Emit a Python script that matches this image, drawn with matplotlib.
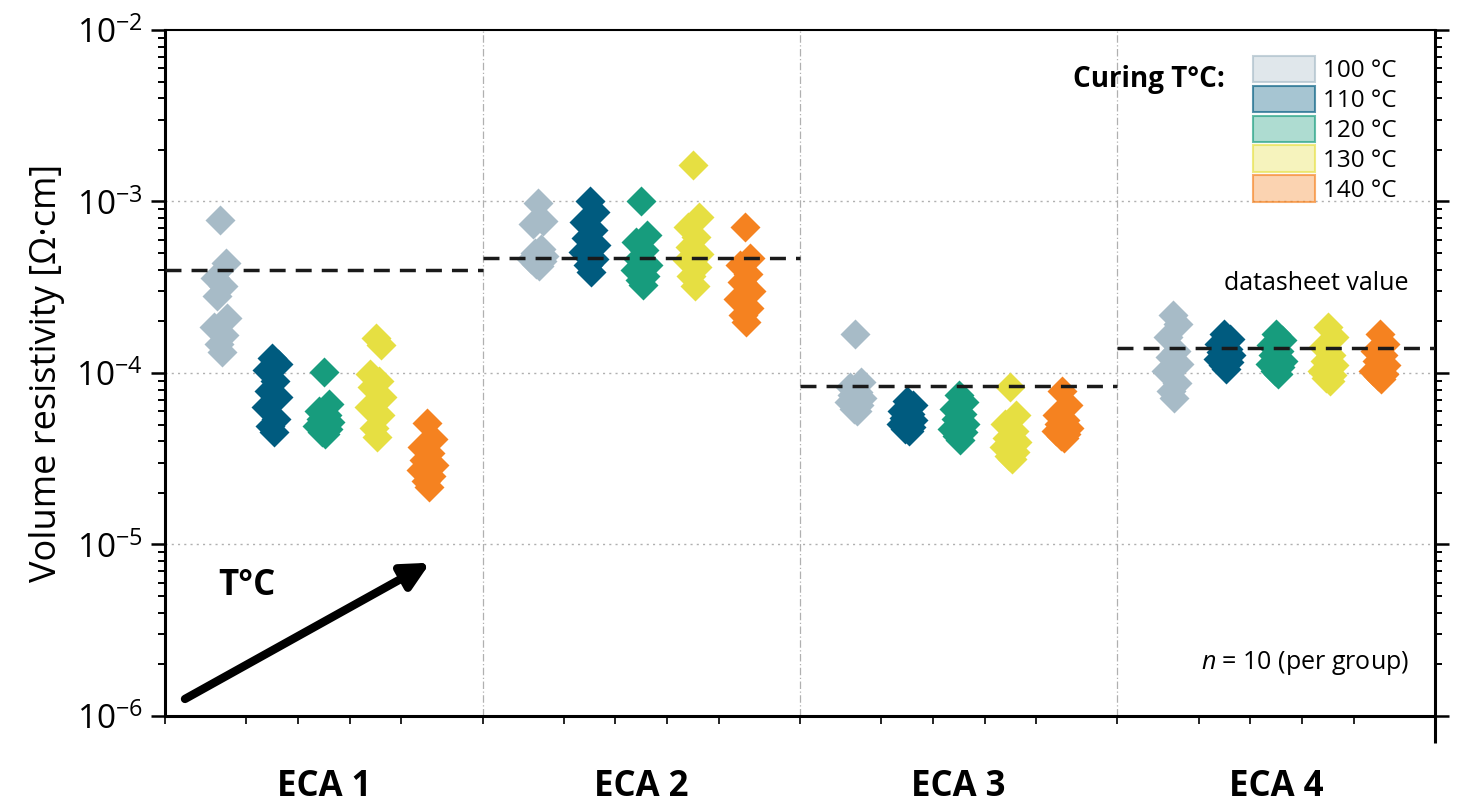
import matplotlib
matplotlib.use('Agg')
import matplotlib.pyplot as plt
from matplotlib.colors import to_rgba
from matplotlib.patches import Patch
from matplotlib.ticker import LogLocator, NullFormatter, FixedLocator
import numpy as np

plt.rcParams['font.family'] = ['Open Sans', 'DejaVu Sans']
plt.rcParams['mathtext.fontset'] = 'custom'
plt.rcParams['mathtext.rm'] = 'Open Sans'
plt.rcParams['mathtext.it'] = 'Open Sans:italic'
plt.rcParams['mathtext.bf'] = 'Open Sans:bold'

# data (volume resistivity, Ohm*cm), rows = curing temperature 100..140 C
groups = ['ECA 1', 'ECA 2', 'ECA 3', 'ECA 4']
temps = ['100 °C', '110 °C', '120 °C', '130 °C', '140 °C']
colors = ['#a7bbc7', '#005b7f', '#179c7d', '#e6df42', '#f58220']

eca1 = [
    [7.8e-4, 4.4e-4, 3.6e-4, 3.2e-4, 2.8e-4, 2.1e-4, 1.85e-4, 1.66e-4, 1.48e-4, 1.33e-4],
    [1.23e-4, 1.13e-4, 1.04e-4, 9.0e-5, 7.9e-5, 7.2e-5, 6.3e-5, 5.4e-5, 4.9e-5, 4.5e-5],
    [1.01e-4, 6.6e-5, 6.0e-5, 5.65e-5, 5.4e-5, 5.15e-5, 4.9e-5, 4.7e-5, 4.5e-5, 4.4e-5],
    [1.61e-4, 1.45e-4, 9.9e-5, 9.0e-5, 8.3e-5, 7.2e-5, 6.3e-5, 5.65e-5, 4.8e-5, 4.25e-5],
    [5.1e-5, 4.1e-5, 3.7e-5, 3.4e-5, 3.1e-5, 2.9e-5, 2.7e-5, 2.5e-5, 2.35e-5, 2.15e-5],
]
eca2 = [
    [9.8e-4, 7.7e-4, 7.4e-4, 5.3e-4, 5.0e-4, 4.8e-4, 4.6e-4, 4.5e-4, 4.3e-4, 4.2e-4],
    [1.0e-3, 8.7e-4, 7.6e-4, 6.8e-4, 6.1e-4, 5.55e-4, 5.1e-4, 4.65e-4, 4.25e-4, 3.9e-4],
    [1.0e-3, 6.4e-4, 5.8e-4, 5.2e-4, 4.65e-4, 4.25e-4, 3.97e-4, 3.7e-4, 3.47e-4, 3.26e-4],
    [1.63e-3, 8.1e-4, 7.1e-4, 6.2e-4, 5.4e-4, 4.95e-4, 4.55e-4, 4.15e-4, 3.7e-4, 3.23e-4],
    [7.1e-4, 4.7e-4, 4.25e-4, 3.8e-4, 3.4e-4, 3.0e-4, 2.7e-4, 2.4e-4, 2.17e-4, 1.97e-4],
]
eca3 = [
    [1.69e-4, 8.8e-5, 8.3e-5, 7.7e-5, 7.4e-5, 7.1e-5, 6.8e-5, 6.5e-5, 6.2e-5, 6.0e-5],
    [6.9e-5, 6.5e-5, 6.0e-5, 5.8e-5, 5.5e-5, 5.3e-5, 5.05e-5, 4.87e-5, 4.72e-5, 4.6e-5],
    [7.45e-5, 6.75e-5, 6.2e-5, 5.8e-5, 5.4e-5, 5.05e-5, 4.7e-5, 4.5e-5, 4.3e-5, 4.05e-5],
    [8.3e-5, 5.65e-5, 5.05e-5, 4.6e-5, 4.2e-5, 3.95e-5, 3.7e-5, 3.45e-5, 3.3e-5, 3.15e-5],
    [7.9e-5, 6.5e-5, 5.65e-5, 5.3e-5, 5.05e-5, 4.8e-5, 4.6e-5, 4.4e-5, 4.3e-5, 4.15e-5],
]
eca4 = [
    [2.19e-4, 1.94e-4, 1.62e-4, 1.35e-4, 1.24e-4, 1.13e-4, 1.03e-4, 8.7e-5, 7.9e-5, 7.1e-5],
    [1.69e-4, 1.58e-4, 1.48e-4, 1.38e-4, 1.32e-4, 1.27e-4, 1.21e-4, 1.16e-4, 1.11e-4, 1.06e-4],
    [1.69e-4, 1.55e-4, 1.45e-4, 1.35e-4, 1.27e-4, 1.18e-4, 1.13e-4, 1.08e-4, 1.03e-4, 9.8e-5],
    [1.85e-4, 1.62e-4, 1.42e-4, 1.27e-4, 1.18e-4, 1.11e-4, 1.03e-4, 9.7e-5, 9.3e-5, 9.0e-5],
    [1.69e-4, 1.48e-4, 1.35e-4, 1.27e-4, 1.18e-4, 1.11e-4, 1.03e-4, 9.9e-5, 9.6e-5, 9.2e-5],
]
datasheet = [4.0e-4, 4.7e-4, 8.4e-5, 1.4e-4]

all_groups = [eca1, eca2, eca3, eca4]

fig = plt.figure(figsize=(14.58, 8.06), dpi=100)
ax = fig.add_axes([0.1132, 0.1117, 0.871, 0.8511])

step = 0.163
jitter = [0.0, 0.018, -0.016, 0.01, -0.01, 0.02, -0.02, 0.013, -0.005, 0.005]

for g, vals in enumerate(all_groups):
    for j, series in enumerate(vals):
        xc = g + 0.5 + (j - 2) * step
        xs = [xc + jitter[k % len(jitter)] for k in range(len(series))]
        ax.plot(xs, series, linestyle='none', marker='D', ms=15.5,
                mec='none', mfc=colors[j], zorder=3)
    ax.hlines(datasheet[g], g, g + 1, colors='#1a1a1a', linestyles=(0, (4.6, 2.9)),
              lw=2.5, zorder=4)

ax.set_yscale('log')
ax.set_ylim(1e-6, 1e-2)
ax.set_xlim(0, 4)

# grid
for yv in [1e-5, 1e-4, 1e-3]:
    ax.axhline(yv, color='#b0b0b0', lw=1, ls=(0, (1.5, 3)), zorder=1)
for xv in [1, 2, 3]:
    ax.axvline(xv, color='#b0b0b0', lw=0.9, ls=(0, (6, 2, 1, 2)), zorder=1)

# spines / ticks
for s in ['left', 'right', 'bottom']:
    ax.spines[s].set_linewidth(2.2)
ax.spines['top'].set_linewidth(1.5)
ax.yaxis.set_major_locator(LogLocator(base=10, numticks=10))
ax.yaxis.set_minor_locator(LogLocator(base=10, subs=np.arange(2, 10), numticks=20))
ax.yaxis.set_minor_formatter(NullFormatter())
ax.tick_params(axis='y', which='major', direction='out', length=10, width=1.8,
               labelsize=24, pad=6, left=True, right=True)
ax.tick_params(axis='y', which='minor', direction='out', length=5, width=1.4,
               left=True, right=True)

ax.xaxis.set_major_locator(FixedLocator([0, 1, 2, 3, 4]))
minor_x = [g + 0.5 + o * step for g in range(4) for o in (-1.5, -0.5, 0.5, 1.5)]
ax.xaxis.set_minor_locator(FixedLocator(minor_x))
ax.tick_params(axis='x', which='both', direction='out', length=6, width=1.2,
               labelbottom=False)

# right spine extended below the plot
ax.plot([1, 1], [0, -0.04], transform=ax.transAxes, color='black', lw=2.2,
        clip_on=False, solid_capstyle='butt')

ax.set_ylabel('Volume resistivity [Ω·cm]', fontsize=26, labelpad=8)

for g, name in enumerate(groups):
    ax.text(g + 0.5, -0.117, name, transform=ax.get_xaxis_transform(),
            ha='center', va='baseline', fontsize=25, fontweight='bold')

# annotations
ax.annotate('', xy=(0.2087, 0.2234), xytext=(0.0157, 0.0248),
            xycoords='axes fraction', textcoords='axes fraction',
            arrowprops=dict(arrowstyle='-|>', lw=6, color='black',
                            mutation_scale=40, shrinkA=0, shrinkB=0))
ax.text(0.0646, 0.19, 'T°C', transform=ax.transAxes, ha='center', va='center',
        fontsize=25, fontweight='bold')
ax.text(0.9795, 0.631, 'datasheet value', transform=ax.transAxes, ha='right',
        va='center', fontsize=18)
ax.text(0.9795, 0.077, r'$\it{n}$ = 10 (per group)', transform=ax.transAxes,
        ha='right', va='center', fontsize=18)

# legend
handles = [Patch(facecolor=to_rgba(c, 0.35), edgecolor=to_rgba(c, 0.65), lw=1.5)
           for c in colors]
fig.legend(handles, temps, loc='upper left', bbox_to_anchor=(1253 / 1458, 1 - 56 / 806),
           frameon=False, fontsize=17.5, handlelength=2.55, handleheight=1.3,
           labelspacing=0.1, handletextpad=0.35, borderpad=0, borderaxespad=0)
fig.text(1225 / 1458, 1 - 80 / 806, 'Curing T°C:', ha='right', va='center',
         fontsize=20, fontweight='bold')

fig.savefig('out.png', dpi=100)
